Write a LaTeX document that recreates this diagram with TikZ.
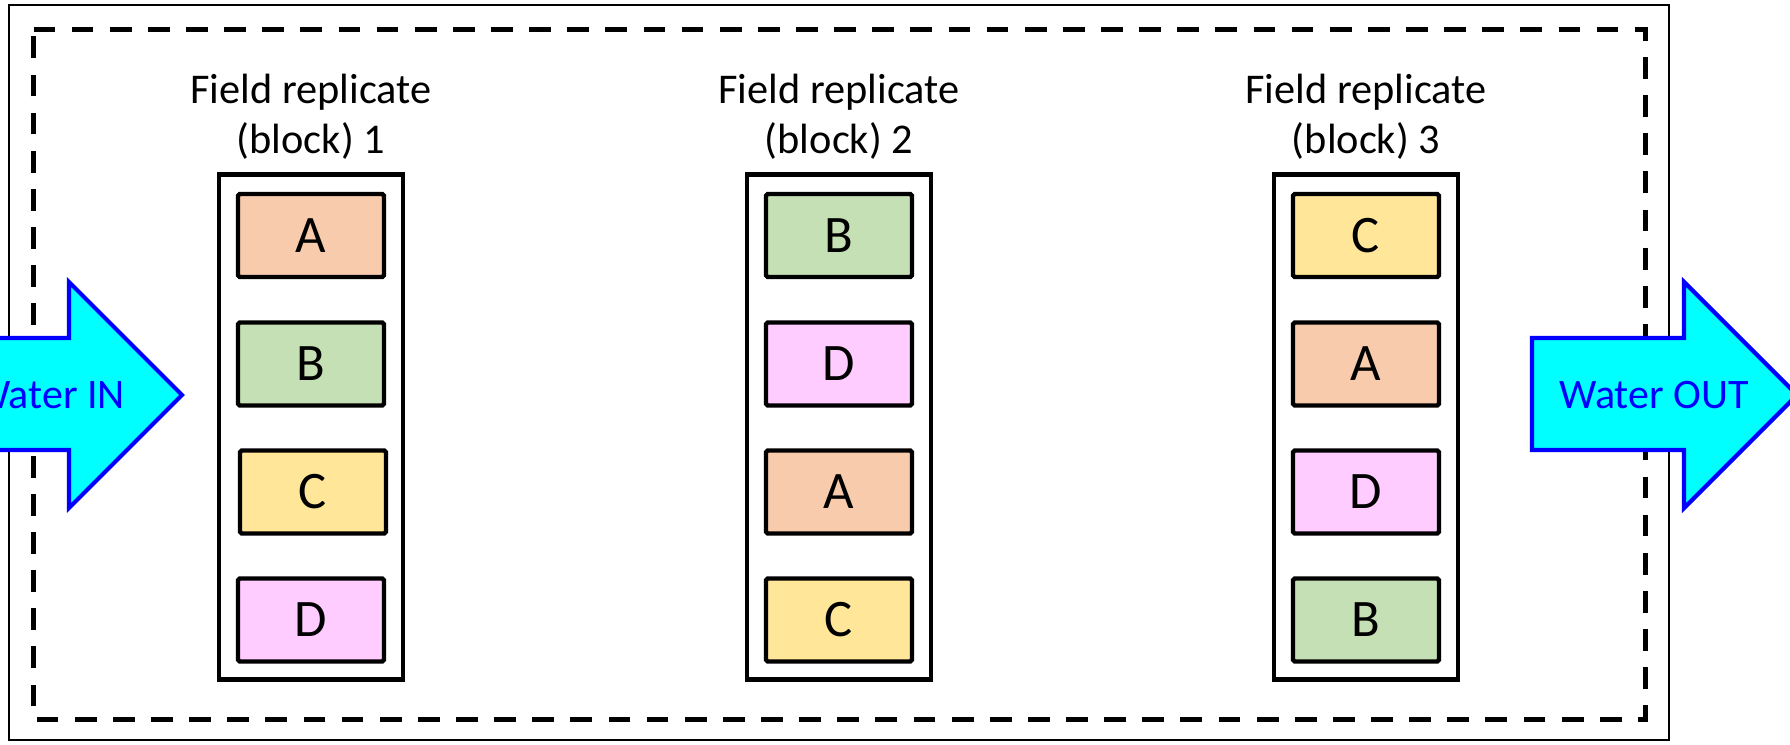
\documentclass[tikz,border=0pt]{standalone}
\usepackage{fontspec}
\setmainfont{Carlito}

\definecolor{trtA}{HTML}{F8CBAD}
\definecolor{trtB}{HTML}{C5E0B4}
\definecolor{trtC}{HTML}{FFE699}
\definecolor{trtD}{HTML}{FFCCFF}
\definecolor{eauclair}{RGB}{0,255,255}
\definecolor{eaubord}{RGB}{0,0,255}

\begin{document}
\begin{tikzpicture}[
  x=0.02cm, y=-0.02cm,
  bloc/.style={draw, line width=2.7pt, minimum width=3.68cm, minimum height=10.1cm, inner sep=0pt},
  parcelle/.style={draw, line width=2.5pt, rounded corners=1pt, minimum width=2.92cm,
    minimum height=1.66cm, inner sep=0pt, font=\fontsize{30}{34}\selectfont},
  titre/.style={align=center, inner sep=0pt, font=\fontsize{24.1}{28.5}\selectfont},
  fleche/.style={draw=eaubord, fill=eauclair, line width=2.4pt},
  eau/.style={text=eaubord, inner sep=0pt, font=\fontsize{23.9}{27}\selectfont},
]
  \useasboundingbox (0,0) rectangle (1790,744);

  % Cadre exterieur et limite du champ (pointilles)
  \draw[line width=0.85pt] (9,5) rectangle (1669,740);
  \draw[line width=2.7pt, dash pattern=on 12.4pt off 9.3pt]
    (33.5,29.7) -- (1645.5,29.7) -- (1645.5,719.5) -- (33.5,719.5) -- cycle;

  % Blocs
  \node[bloc] (bloc1) at (311,427) {};
  \node[bloc] (bloc2) at (839,427) {};
  \node[bloc] (bloc3) at (1366,427) {};

  \node[titre] (t1) at (311,117) {Field replicate\\(block) 1};
  \node[titre] (t2) at (839,117) {Field replicate\\(block) 2};
  \node[titre] (t3) at (1366,117) {Field replicate\\(block) 3};

  % Parcelles du bloc 1
  \node[parcelle, fill=trtA] (p1a) at (311,235.5) {A};
  \node[parcelle, fill=trtB] (p1b) at (311,364) {B};
  \node[parcelle, fill=trtC] (p1c) at (313,492) {C};
  \node[parcelle, fill=trtD] (p1d) at (311,620) {D};

  % Parcelles du bloc 2
  \node[parcelle, fill=trtB] (p2b) at (839,235.5) {B};
  \node[parcelle, fill=trtD] (p2d) at (839,364) {D};
  \node[parcelle, fill=trtA] (p2a) at (839,492) {A};
  \node[parcelle, fill=trtC] (p2c) at (839,620) {C};

  % Parcelles du bloc 3
  \node[parcelle, fill=trtC] (p3c) at (1366,235.5) {C};
  \node[parcelle, fill=trtA] (p3a) at (1366,364) {A};
  \node[parcelle, fill=trtD] (p3d) at (1366,492) {D};
  \node[parcelle, fill=trtB] (p3b) at (1366,620) {B};

  % Entree et sortie de l'eau
  \draw[fleche] (-83,338) -- (69,338) -- (69,282) -- (182,395)
    -- (69,508) -- (69,450) -- (-83,450) -- cycle;
  \node[eau] (in) at (49,395) {Water IN};

  \draw[fleche] (1532,338) -- (1684,338) -- (1684,282) -- (1797,395)
    -- (1684,508) -- (1684,450) -- (1532,450) -- cycle;
  \node[eau] (out) at (1654,395) {Water OUT};
\end{tikzpicture}
\end{document}
